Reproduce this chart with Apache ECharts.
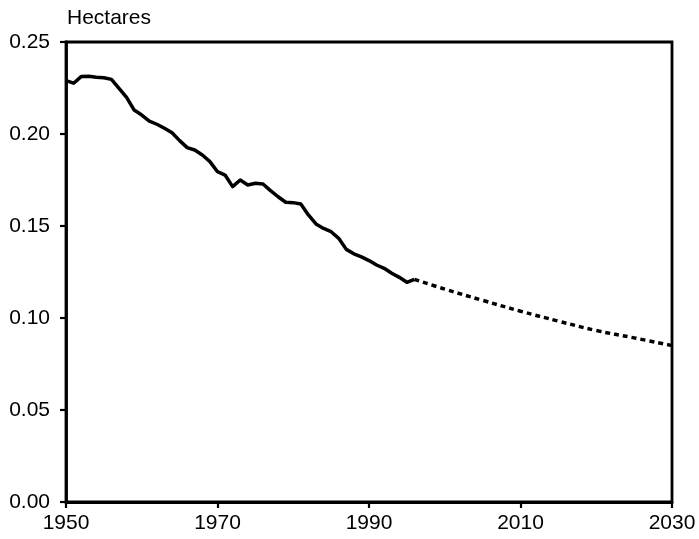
<!DOCTYPE html>
<html>
<head>
<meta charset="utf-8">
<script src="https://cdn.jsdelivr.net/npm/echarts@6/dist/echarts.min.js"></script>
<style>
html,body{margin:0;padding:0;background:#fff;}
#chart{width:699px;height:539px;}
</style>
</head>
<body>
<div id="chart"></div>
<script>
// Historical (solid) series
var histYears = [1950,1951,1952,1953,1954,1955,1956,1957,1958,1959,1960,1961,1962,1963,1964,1965,1966,1967,1968,1969,1970,1971,1972,1973,1974,1975,1976,1977,1978,1979,1980,1981,1982,1983,1984,1985,1986,1987,1988,1989,1990,1991,1992,1993,1994,1995,1996];
var histValues = [0.229,0.2276,0.2312,0.2314,0.2308,0.2306,0.2297,0.2248,0.2199,0.213,0.2103,0.207,0.2053,0.2031,0.2007,0.1964,0.1926,0.1913,0.1886,0.185,0.1795,0.1777,0.1714,0.175,0.1723,0.1732,0.1728,0.1692,0.1659,0.1629,0.1627,0.162,0.156,0.1511,0.1487,0.1469,0.1433,0.1373,0.1349,0.1332,0.1312,0.1288,0.127,0.1243,0.1221,0.1194,0.121];
// Projection (dashed) series
var projYears = [1996,2000,2005,2010,2015,2020,2025,2030];
var projValues = [0.121,0.1157,0.1096,0.1037,0.0983,0.0932,0.0892,0.085];
// Tick labels
var xTicks = [1950,1970,1990,2010,2030];
var yTicks = [0.00,0.05,0.10,0.15,0.20,0.25];
var yAxisTitle = 'Hectares';

function pairs(xs, ys){ return xs.map(function(x,i){ return [x, ys[i]]; }); }

var font = 'Liberation Sans, Arial, Helvetica, sans-serif';
var chart = echarts.init(document.getElementById('chart'));
chart.setOption({
  animation: false,
  backgroundColor: '#fff',
  grid: {left: 66, right: 27, top: 42, bottom: 37, show: true, borderColor: '#000', borderWidth: 2.8, backgroundColor: 'transparent'},
  xAxis: {
    type: 'value', min: xTicks[0], max: xTicks[xTicks.length-1], interval: 20,
    axisLine: {show: true, lineStyle: {color: '#000', width: 2.8}},
    axisTick: {show: true, inside: false, length: 6, lineStyle: {color: '#000', width: 2.2}},
    axisLabel: {color: '#000', fontSize: 21, fontFamily: font, margin: 11, formatter: function(v){ return String(v); }},
    splitLine: {show: false}
  },
  yAxis: {
    type: 'value', min: 0, max: yTicks[yTicks.length-1], interval: 0.05,
    name: yAxisTitle, nameLocation: 'end', nameGap: 13,
    nameTextStyle: {color: '#000', fontSize: 21, fontFamily: font, align: 'left', padding: [0,0,0,1]},
    axisLine: {show: true, lineStyle: {color: '#000', width: 2.8}},
    axisTick: {show: true, inside: false, length: 6, lineStyle: {color: '#000', width: 2.2}},
    axisLabel: {color: '#000', fontSize: 21, fontFamily: font, margin: 16, formatter: function(v){ return v.toFixed(2); }},
    splitLine: {show: false}
  },
  series: [
    {type: 'line', data: pairs(histYears, histValues), symbol: 'none', lineStyle: {color: '#000', width: 3.5, join: 'round'}},
    {type: 'line', data: pairs(projYears, projValues), symbol: 'none', smooth: 0.4, lineStyle: {color: '#000', width: 3.5, type: [5,4]}}
  ]
});
</script>
</body>
</html>
